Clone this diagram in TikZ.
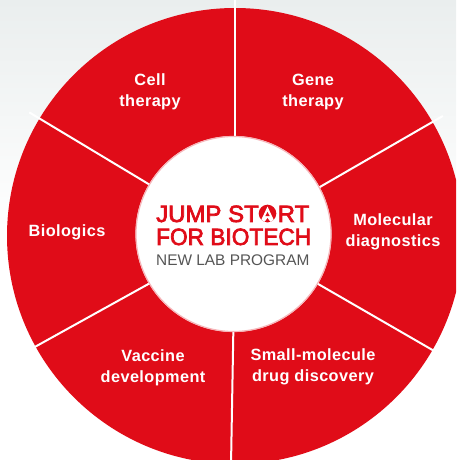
\documentclass[tikz,border=0pt]{standalone}
\usepackage{fontspec}
\setmainfont{Liberation Sans}
\newfontfamily\labfont[LetterSpace=2.5]{Liberation Sans}
\newfontfamily\logofont[FakeBold=3]{Liberation Sans}
\definecolor{jsred}{RGB}{224,12,24}
\definecolor{bggray}{RGB}{234,238,238}
\definecolor{txtgray}{RGB}{85,85,85}
\tikzset{
  seglabel/.style={text=white, align=center, inner sep=0pt,
    font=\labfont\bfseries\fontsize{16.3}{20.5}\selectfont},
  bigred/.style={text=jsred, inner sep=0pt, anchor=base west,
    font=\logofont\fontsize{23.5}{24}\selectfont},
  subline/.style={text=txtgray, inner sep=0pt, anchor=base west,
    font=\fontsize{15.4}{16}\selectfont},
  divider/.style={white, line width=2pt}
}
\begin{document}
\begin{tikzpicture}[x=1pt,y=1pt]
\useasboundingbox (0,0) rectangle (456,460);
\fill[white] (0,0) rectangle (456,460);
\shade[top color=bggray, bottom color=white] (0,230) rectangle (456,460);
\begin{scope}
  \clip (0,0) rectangle (456,460);
  \coordinate (c) at (235,224);
  \fill[jsred] (c) circle[radius=228];
  \foreach \a in {90,30,-30,-91,209,149}
    \draw[divider] (c) -- ++(\a:240);
  \coordinate (ic) at (233.5,226);
  \fill[white] (ic) circle[radius=98];
  \draw[jsred!30, line width=1.2pt] (ic) circle[radius=97.5];
\end{scope}
% segment labels
\node[seglabel] (cell) at (150,368) {Cell\\therapy};
\node[seglabel] (gene) at (313,368) {Gene\\therapy};
\node[seglabel] (mol) at (393,228) {Molecular\\diagnostics};
\node[seglabel] (bio) at (67,228) {Biologics};
\node[seglabel] (vac) at (153,92) {Vaccine\\development};
\node[seglabel] (small) at (313,93) {Small-molecule\\drug discovery};
% center logo text
\node[bigred] (j1) at (156,238) {\scalebox{1.02}[1]{JUMP ST}};
\node[circle, fill=jsred, inner sep=0pt, minimum size=17.6pt] (dA) at (267.5,246.5) {};
\begin{scope}
  \clip (dA.center) circle[radius=8.8pt];
  \fill[white] ([yshift=7pt]dA.center) -- ([xshift=-7.5pt,yshift=-9pt]dA.center)
    -- ([xshift=7.5pt,yshift=-9pt]dA.center) -- cycle;
  \fill[jsred] ([yshift=1.5pt]dA.center) -- ([xshift=-2.2pt,yshift=-2.6pt]dA.center)
    -- ([xshift=2.2pt,yshift=-2.6pt]dA.center) -- cycle;
  \fill[jsred] ([yshift=-4.6pt]dA.center) -- ([xshift=-4pt,yshift=-10pt]dA.center)
    -- ([xshift=4pt,yshift=-10pt]dA.center) -- cycle;
\end{scope}
\node[bigred] (j2) at (277.5,238) {\scalebox{1.02}[1]{RT}};
\node[bigred] (j3) at (156,215) {\scalebox{0.965}[1]{FOR BIOTECH}};
\node[subline] (j4) at (156,194) {NEW LAB PROGRAM};
\end{tikzpicture}
\end{document}
